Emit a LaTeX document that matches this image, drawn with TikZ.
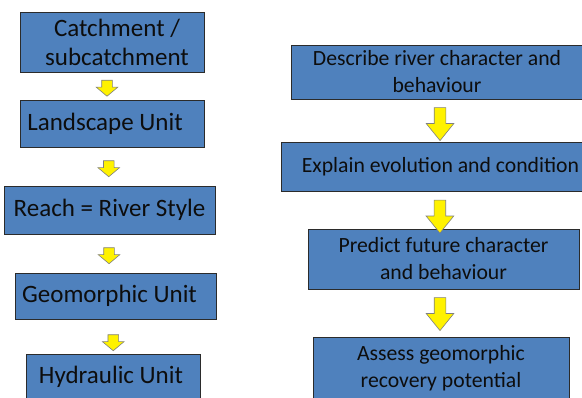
\documentclass[tikz,border=0pt]{standalone}
\usepackage{fontspec}
\setmainfont{Carlito}
\usetikzlibrary{positioning, shapes.arrows}

\definecolor{boxblue}{HTML}{4F81BD}
\definecolor{boxline}{HTML}{2B2B2B}
\definecolor{arrowline}{HTML}{7F7F7F}
\definecolor{textblack}{HTML}{0D0D0D}

\begin{document}
\begin{tikzpicture}[x=1pt, y=1pt,
    unitbox/.style={draw=boxline, fill=boxblue, line width=0.8pt, align=center, inner sep=0pt, text=textblack},
    leftbox/.style={unitbox, font=\fontsize{25}{29}\selectfont},
    rightbox/.style={unitbox, font=\fontsize{21.7}{27}\selectfont},
    downarrow/.style={single arrow, draw=arrowline, fill=yellow, line width=0.6pt, inner xsep=0pt, single arrow head indent=0pt, rotate=-90},
    smallarrow/.style={downarrow, inner ysep=5pt, single arrow head extend=5.5pt, minimum height=16pt, single arrow tip angle=100},
    bigarrow/.style={downarrow, inner ysep=5.5pt, single arrow head extend=8pt, minimum height=33pt, single arrow tip angle=78}]
        \useasboundingbox (0,0) rectangle (582,-397);
        \clip (0,0) rectangle (582,-397);

        % spatial hierarchy
        \node[leftbox, minimum width=184pt, minimum height=60pt] (catchment) at (112,-42)    {\hspace{10pt}Catchment /\\ \hspace{10pt}subcatchment};
        \node[leftbox, minimum width=184pt, minimum height=47pt] (landscape) at (112,-123.5) {Landscape Unit\hspace{14pt}};
        \node[leftbox, minimum width=211pt, minimum height=48pt] (reach)     at (109.5,-210) {Reach = River Style};
        \node[leftbox, minimum width=201pt, minimum height=46pt] (geounit)   at (115.5,-296) {Geomorphic Unit\hspace{12pt}};
        \node[leftbox, minimum width=174pt, minimum height=46pt] (hydunit)   at (113,-377)   {Hydraulic Unit\hspace{4pt}};

        % procedural steps
        \node[rightbox, minimum width=292pt, minimum height=54pt] (describe) at (437,-72)    {Describe river character and\\ behaviour};
        \node[rightbox, minimum width=319pt, minimum height=49pt] (explain)  at (440.5,-166.5) {Explain evolution and condition};
        \node[rightbox, minimum width=271pt, minimum height=60pt] (predict)  at (443.5,-259) {Predict future character\\ and behaviour};
        \node[rightbox, minimum width=256pt, minimum height=62pt] (assess)   at (441,-368)   {Assess geomorphic\\ recovery potential};

        \path (catchment) -- node[xshift=-5pt, smallarrow] {} (landscape);
        \path (landscape) -- node[xshift=-2pt, smallarrow] {} (reach);
        \path (reach)     -- node[xshift=-3.5pt, smallarrow] {} (geounit);
        \path (geounit)   -- node[xshift=-1pt, yshift=-4pt, smallarrow] {} (hydunit);

        \path (describe) -- node[xshift=1.25pt, bigarrow] {} (explain);
        \path (explain)  -- node[xshift=-2pt, yshift=-3pt, bigarrow] {} (predict);
        \path (predict)  -- node[xshift=-2.25pt, yshift=2.5pt, bigarrow] {} (assess);
    \end{tikzpicture}
\end{document}
